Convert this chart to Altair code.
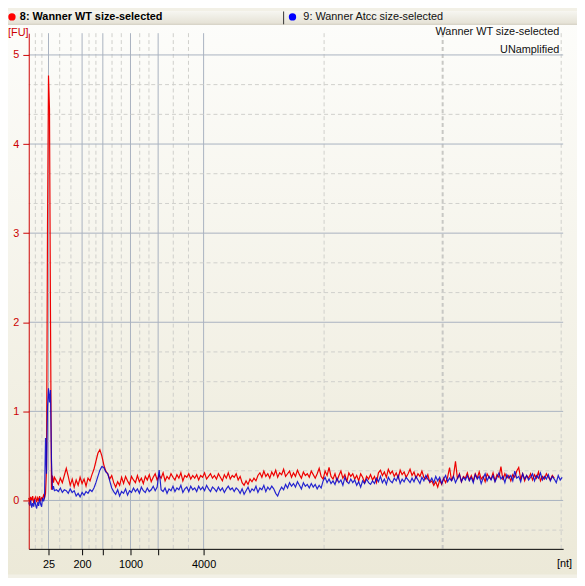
import altair as alt
import pandas as pd

FONT = "Liberation Sans"
W, H = 541, 522
X_DOMAIN = [18.0, 72.1]          # migration time [s]
Y_DOMAIN = [-0.543, 5.244]       # fluorescence [FU]

# ---- traces ----
pre_times = [18.0, 18.1, 18.2, 18.3, 18.4, 18.5, 18.6, 18.7, 18.8, 18.9, 19.0, 19.1, 19.2, 19.3, 19.4, 19.5]
red_pre = [0.03, -0.02, 0.04, 0.0, 0.05, -0.03, 0.02, 0.04, -0.02, 0.03, 0.0, 0.05, -0.01, 0.03, 0.02, 0.06]
blue_pre = [-0.02, -0.06, 0.0, -0.08, -0.03, -0.07, 0.01, -0.05, -0.09, -0.02, -0.06, 0.02, -0.04, -0.07, 0.03, -0.01]

peak_times = [19.6, 19.7, 19.8, 19.9, 20.0, 20.1, 20.2, 20.3, 20.4, 20.5, 20.6]
red_peak = [0.03, 0.08, 0.35, 3.07, 4.77, 4.39, 2.10, 0.12, 0.28, 0.20, 0.26]
blue_peak = [0.04, 0.70, 0.30, 1.05, 1.26, 1.10, 1.24, 0.45, 0.12, 0.16, 0.11]

main_start, main_step = 20.8, 0.2
red_main = [
    0.22, 0.18, 0.25, 0.20, 0.28, 0.36, 0.27, 0.17, 0.24, 0.15,
    0.23, 0.17, 0.26, 0.19, 0.24, 0.16, 0.25, 0.22, 0.29, 0.35,
    0.44, 0.53, 0.57, 0.50, 0.40, 0.33, 0.30, 0.24, 0.28, 0.20,
    0.15, 0.21, 0.17, 0.26, 0.19, 0.27, 0.22, 0.18, 0.27, 0.23,
    0.20, 0.28, 0.21, 0.25, 0.19, 0.27, 0.23, 0.29, 0.21, 0.26,
    0.30, 0.23, 0.28, 0.25, 0.31, 0.22, 0.27, 0.24, 0.30, 0.26,
    0.23, 0.29, 0.25, 0.31, 0.22, 0.28, 0.26, 0.30, 0.24, 0.28,
    0.25, 0.29, 0.23, 0.28, 0.26, 0.31, 0.24, 0.27, 0.30, 0.25,
    0.28, 0.24, 0.30, 0.26, 0.22, 0.29, 0.25, 0.31, 0.24, 0.28,
    0.26, 0.30, 0.23, 0.27, 0.20, 0.17, 0.22, 0.18, 0.24, 0.21,
    0.25, 0.22, 0.28, 0.31, 0.26, 0.33, 0.27, 0.30, 0.25, 0.32,
    0.28, 0.34, 0.26, 0.31, 0.29, 0.35, 0.27, 0.30, 0.33, 0.26,
    0.31, 0.27, 0.34, 0.29, 0.25, 0.32, 0.28, 0.30, 0.26, 0.33,
    0.29, 0.25, 0.30, 0.36, 0.27, 0.24, 0.33, 0.28, 0.37, 0.27,
    0.24, 0.30, 0.22, 0.28, 0.33, 0.25, 0.29, 0.21, 0.31, 0.27,
    0.30, 0.24, 0.28, 0.22, 0.30, 0.26, 0.20, 0.27, 0.24, 0.29,
    0.23, 0.27, 0.20, 0.31, 0.34, 0.28, 0.32, 0.26, 0.35, 0.30,
    0.33, 0.27, 0.31, 0.25, 0.34, 0.29, 0.32, 0.26, 0.30, 0.35,
    0.28, 0.32, 0.25, 0.30, 0.27, 0.33, 0.26, 0.24, 0.29, 0.20,
    0.22, 0.17, 0.21, 0.15, 0.23, 0.18, 0.25, 0.20, 0.26, 0.37,
    0.22, 0.28, 0.44, 0.24, 0.30, 0.21, 0.27, 0.25, 0.31, 0.23,
    0.28, 0.22, 0.30, 0.25, 0.32, 0.24, 0.27, 0.21, 0.30, 0.26,
    0.24, 0.31, 0.22, 0.29, 0.26, 0.38, 0.23, 0.30, 0.25, 0.28,
    0.22, 0.29, 0.26, 0.33, 0.37, 0.24, 0.30, 0.22, 0.28, 0.25,
    0.30, 0.23, 0.29, 0.25, 0.32, 0.22, 0.27, 0.24, 0.30, 0.26,
    0.23, 0.28, 0.25,
]
blue_main = [
    0.12, 0.10, 0.14, 0.09, 0.12, 0.11, 0.08, 0.13, 0.09, 0.11,
    0.05, 0.08, 0.04, 0.09, 0.06, 0.10, 0.08, 0.12, 0.10, 0.14,
    0.20, 0.27, 0.34, 0.38, 0.37, 0.32, 0.30, 0.22, 0.14, 0.10,
    0.07, 0.12, 0.05, 0.10, 0.08, 0.13, 0.06, 0.11, 0.09, 0.14,
    0.10, 0.13, 0.08, 0.15, 0.11, 0.09, 0.14, 0.10, 0.12, 0.16,
    0.11, 0.15, 0.34, 0.12, 0.10, 0.14, 0.08, 0.13, 0.11, 0.16,
    0.10, 0.14, 0.12, 0.17, 0.09, 0.13, 0.15, 0.10, 0.16, 0.12,
    0.14, 0.10, 0.16, 0.12, 0.15, 0.11, 0.17, 0.13, 0.10, 0.15,
    0.13, 0.10, 0.15, 0.11, 0.14, 0.09, 0.13, 0.16, 0.12, 0.14,
    0.10, 0.14, 0.12, 0.08, 0.13, 0.07, 0.11, 0.15, 0.09, 0.13,
    0.11, 0.16, 0.09, 0.14, 0.12, 0.17, 0.10, 0.15, 0.12, 0.16,
    0.13, 0.08, 0.05, 0.11, 0.15, 0.12, 0.18, 0.14, 0.20, 0.16,
    0.19, 0.15, 0.21, 0.17, 0.13, 0.20, 0.16, 0.18, 0.14, 0.19,
    0.15, 0.18, 0.13, 0.17, 0.14, 0.22, 0.26, 0.20, 0.24, 0.19,
    0.22, 0.18, 0.25, 0.20, 0.23, 0.17, 0.26, 0.21, 0.19, 0.24,
    0.20, 0.23, 0.17, 0.21, 0.15, 0.22, 0.19, 0.24, 0.20, 0.18,
    0.22, 0.19, 0.25, 0.21, 0.27, 0.20, 0.24, 0.18, 0.26, 0.22,
    0.20, 0.25, 0.22, 0.28, 0.19, 0.24, 0.21, 0.26, 0.23, 0.20,
    0.25, 0.21, 0.27, 0.23, 0.19, 0.26, 0.22, 0.28, 0.24, 0.21,
    0.25, 0.20, 0.27, 0.22, 0.26, 0.19, 0.24, 0.28, 0.21, 0.25,
    0.22, 0.27, 0.20, 0.25, 0.29, 0.21, 0.26, 0.23, 0.28, 0.22,
    0.26, 0.20, 0.29, 0.24, 0.27, 0.19, 0.25, 0.30, 0.22, 0.27,
    0.23, 0.28, 0.21, 0.26, 0.31, 0.24, 0.27, 0.20, 0.29, 0.25,
    0.28, 0.22, 0.33, 0.25, 0.27, 0.21, 0.30, 0.24, 0.28, 0.23,
    0.26, 0.30, 0.22, 0.28, 0.25, 0.31, 0.23, 0.27, 0.24, 0.29,
    0.22, 0.27, 0.24, 0.20, 0.28, 0.23, 0.26,
]

# ---- axis / grid positions ----
ladder_times = [20.0, 23.4, 25.5, 28.3, 31.1, 35.7]
ladder_labels = ["25", "200", "", "1000", "", "4000"]
x_minor = [18.67, 19.33, 21.13, 22.27, 24.1, 24.8, 26.43, 27.37, 29.23, 30.17,
           32.63, 34.17, 47.9, 71.9]
x_minor_bold = [59.9]
y_major = [0, 1, 2, 3, 4, 5]
y_minor = [-0.333, 0.333, 0.667, 1.333, 1.667, 2.333, 2.667, 3.333, 3.667, 4.333, 4.667]

sample_names = ["8: Wanner WT size-selected", "9: Wanner Atcc size-selected"]
plot_titles = ["Wanner WT size-selected", "UNamplified"]


def trace(pre, peak, main):
    times = pre_times + peak_times + [round(main_start + main_step * i, 1) for i in range(len(main))]
    return pd.DataFrame({"t": times, "fu": pre + peak + main})


red_df = trace(red_pre, red_peak, red_main)
blue_df = trace(blue_pre, blue_peak, blue_main)

xscale = alt.Scale(domain=X_DOMAIN, nice=False, zero=False)
yscale = alt.Scale(domain=Y_DOMAIN, nice=False, zero=False)

label_expr = " : ".join(f"datum.value == {t} ? '{l}'" for t, l in zip(ladder_times, ladder_labels)) + " : ''"

x_axis = alt.Axis(values=ladder_times, labelExpr=label_expr, grid=False, title=None,
                  domainColor="#000000", tickColor="#000000", labelColor="#000000",
                  tickSize=6, labelPadding=4, labelFont=FONT, labelFontSize=11,
                  labelOverlap=False, labelFlush=False, zindex=1)
y_axis = alt.Axis(values=y_major, format="d", grid=False, title=None,
                  domainColor="#CC0000", tickColor="#CC0000", labelColor="#CC0000",
                  tickSize=6, labelPadding=4, labelFont=FONT, labelFontSize=11,
                  labelOverlap=False, labelFlush=False, zindex=1)


def X(field):
    return alt.X(field, scale=xscale, axis=x_axis)


def Y(field):
    return alt.Y(field, scale=yscale, axis=y_axis)


one = alt.Data(values=[{}])

bg = alt.Chart(one).mark_rect(
    fill=alt.Gradient(gradient="linear", x1=0, y1=0, x2=0, y2=1,
                      stops=[alt.GradientStop(color="#FDFDFB", offset=0),
                             alt.GradientStop(color="#ECE9D8", offset=1)])
).encode(x=alt.value(-21), x2=alt.value(555), y=alt.value(-22), y2=alt.value(548))

header = alt.Chart(one).mark_rect(
    fill=alt.Gradient(gradient="linear", x1=0, y1=0, x2=0, y2=1,
                      stops=[alt.GradientStop(color="#F6F5F0", offset=0),
                             alt.GradientStop(color="#E4E1D4", offset=1)])
).encode(x=alt.value(-21), x2=alt.value(555), y=alt.value(-22), y2=alt.value(-9))
header_line = alt.Chart(one).mark_rule(color="#CFCCBE").encode(
    x=alt.value(-21), x2=alt.value(555), y=alt.value(-9))
sep = alt.Chart(one).mark_rule(color="#333333").encode(
    x=alt.value(258), y=alt.value(-22), y2=alt.value(-9))

dots = alt.Chart(pd.DataFrame({"px": [-17, 267], "c": ["#FF0000", "#0000FF"]})).mark_point(
    filled=True, shape="circle", size=55, opacity=1
).encode(x=alt.X("px:Q", scale=None), y=alt.value(-16.5), color=alt.Color("c:N", scale=None))

h1 = alt.Chart(one).mark_text(align="left", baseline="middle", font=FONT, fontSize=11,
                              fontWeight="bold", color="#000000").encode(
    x=alt.value(-9), y=alt.value(-16.5), text=alt.value(sample_names[0]))
h2 = alt.Chart(one).mark_text(align="left", baseline="middle", font=FONT, fontSize=11,
                              color="#111111").encode(
    x=alt.value(278), y=alt.value(-16.5), text=alt.value(sample_names[1]))

gx_major = alt.Chart(pd.DataFrame({"t": ladder_times})).mark_rule(
    color="#A9B2C0", strokeWidth=1).encode(x=X("t:Q"))
gx_minor = alt.Chart(pd.DataFrame({"t": x_minor})).mark_rule(
    color="#CFCFCB", strokeWidth=1, strokeDash=[4, 3]).encode(x=X("t:Q"))
gx_bold = alt.Chart(pd.DataFrame({"t": x_minor_bold})).mark_rule(
    color="#C8C8C4", strokeWidth=2, strokeDash=[4, 3]).encode(x=X("t:Q"))
gy_major = alt.Chart(pd.DataFrame({"fu": y_major})).mark_rule(
    color="#A9B2C0", strokeWidth=1).encode(y=Y("fu:Q"))
gy_minor = alt.Chart(pd.DataFrame({"fu": y_minor})).mark_rule(
    color="#CFCFCB", strokeWidth=1, strokeDash=[4, 3]).encode(y=Y("fu:Q"))

red_line = alt.Chart(red_df).mark_line(color="#EE0000", strokeWidth=1.2).encode(
    x=X("t:Q"), y=Y("fu:Q"))
blue_line = alt.Chart(blue_df).mark_line(color="#0000CC", strokeWidth=1.2, opacity=0.85).encode(
    x=X("t:Q"), y=Y("fu:Q"))

fu_label = alt.Chart(one).mark_text(align="left", baseline="middle", font=FONT, fontSize=11,
                                    color="#CC0000").encode(
    x=alt.value(-21), y=alt.value(0), text=alt.value("[FU]"))
nt_label = alt.Chart(one).mark_text(align="right", baseline="middle", font=FONT, fontSize=11,
                                    color="#000000").encode(
    x=alt.value(550), y=alt.value(537), text=alt.value("[nt]"))
titles = alt.Chart(pd.DataFrame({"label": plot_titles, "py": [-1, 17]})).mark_text(
    align="right", baseline="middle", font=FONT, fontSize=11, color="#111111").encode(
    x=alt.value(537), y=alt.Y("py:Q", scale=None), text="label:N")

chart = alt.layer(
    bg, header, header_line, sep, dots, h1, h2,
    gx_major, gx_minor, gx_bold, gy_major, gy_minor,
    red_line, blue_line, fu_label, nt_label, titles,
).properties(
    width=W, height=H,
    padding={"left": 21, "top": 22, "right": 14, "bottom": 26},
    autosize=alt.AutoSizeParams(type="none"),
    background="#F2F0E6",
).configure_view(stroke=None)

chart.save("out.html", embed_options={"renderer": "svg", "actions": False})
